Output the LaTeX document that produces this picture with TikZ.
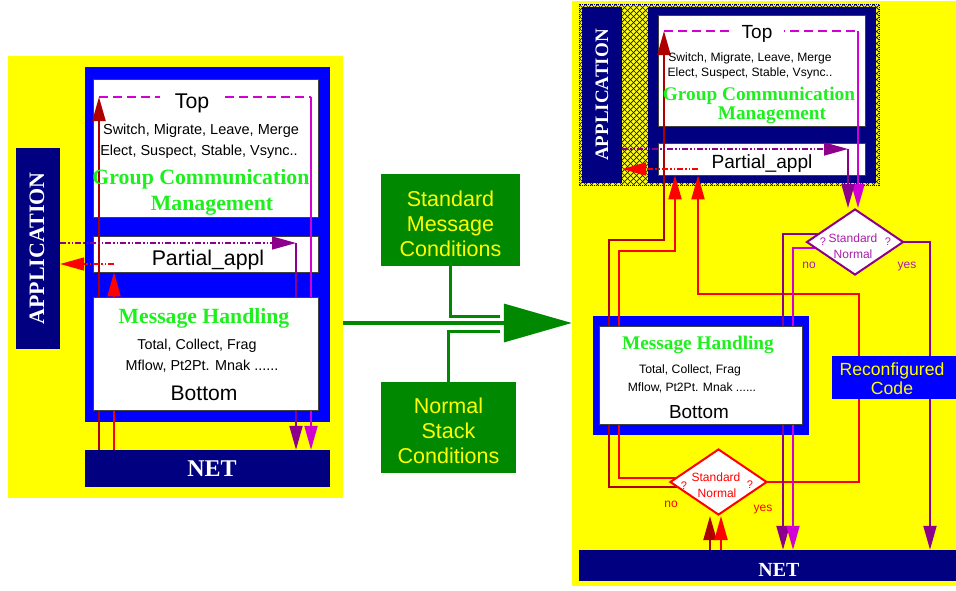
\documentclass[tikz,border=0pt]{standalone}
\usepackage{fontspec}
\setmainfont{Liberation Sans}
\newfontfamily\tmsfont{Liberation Serif}
\usetikzlibrary{arrows.meta,shapes.geometric}
\definecolor{bgyel}{RGB}{255,255,0}
\definecolor{stkblue}{RGB}{0,0,255}
\definecolor{netnavy}{RGB}{0,0,128}
\definecolor{lnmaroon}{RGB}{175,0,0}
\definecolor{lnred}{RGB}{255,0,0}
\definecolor{lnpurple}{RGB}{140,0,140}
\definecolor{lnmagenta}{RGB}{210,0,210}
\definecolor{condgreen}{RGB}{0,136,0}
\definecolor{gcmgreen}{RGB}{30,240,30}
\definecolor{qpurple}{RGB}{170,30,170}
\newcommand\setfs[1]{\fontsize{#1}{#1}\selectfont}
\pgfdeclarelayer{bg}
\pgfdeclarelayer{conn}
\pgfsetlayers{bg,conn,main}
\begin{document}
\begin{tikzpicture}[x=1pt,y=-1pt,
    wbox/.style={draw=black!75,fill=white,line width=0.8pt,inner sep=0pt},
    fillbox/.style={inner sep=0pt},
    navybox/.style={fill=netnavy,inner sep=0pt},
    txt/.style={inner sep=0pt,anchor=base},
    bigtxt/.style={txt,text=white,font=\tmsfont\bfseries\setfs{#1}},
    gcm/.style={txt,text=gcmgreen,font=\tmsfont\bfseries\setfs{#1}},
    condbox/.style={fill=condgreen,text=bgyel,align=center,inner sep=0pt,font=\fontsize{21.5}{25}\selectfont},
    decision/.style={diamond,draw=#1,fill=white,line width=2pt,inner sep=0pt,minimum width=97,minimum height=66},
    ln/.style={line width=2pt},
    arr/.style={-{Triangle[length=24pt,width=13pt]}},
    dashmag/.style={line width=1.6pt,dash pattern=on 9pt off 5pt},
    dashdd/.style={line width=1.6pt,dash pattern=on 6pt off 2pt on 1.5pt off 2pt on 1.5pt off 2pt}]
\useasboundingbox (0,0) rectangle (956,590);

% ---------- left stack
\begin{pgfonlayer}{bg}
  \node[fillbox,fill=bgyel,minimum width=335,minimum height=442] (lbg) at (175.5,277) {};
  \node[fillbox,fill=stkblue,minimum width=245,minimum height=355] (lstack) at (207.5,244.5) {};
  \node[wbox,minimum width=225,minimum height=138] (ltop) at (205.5,148) {};
  \node[wbox,minimum width=225,minimum height=36] (lpart) at (205.5,254) {};
\end{pgfonlayer}
\node[navybox,minimum width=44,minimum height=201] (lapp) at (38,248.5) {};
\node[bigtxt=22,rotate=90,anchor=center] (lapptxt) at (37,248.5) {APPLICATION};
\node[txt,fill=white,inner xsep=15pt,font=\setfs{21.3}] (ltoptxt) at (192,108.3) {Top};
\node[txt,font=\setfs{14.5}] (lsw) at (201,134.3) {Switch, Migrate, Leave, Merge};
\node[txt,font=\setfs{14.5}] (lel) at (199,155) {Elect, Suspect, Stable, Vsync..};
\node[gcm=21.8] (lgc1) at (201,184.5) {Group Communication};
\node[gcm=21.8] (lgc2) at (212,210) {Management};
\node[txt,font=\setfs{21.3}] (lparttxt) at (208,265) {Partial\_appl};
\node[wbox,minimum width=225,minimum height=113] (lmsg) at (205.5,353.5) {};
\node[gcm=21.7] (lmh) at (204,323.3) {Message Handling};
\node[txt,font=\setfs{14.3}] (ltot) at (197,349.3) {Total, Collect, Frag};
\node[txt,font=\setfs{14.4}] (lmfl) at (202,370) {Mflow, Pt2Pt. Mnak ......};
\node[txt,font=\setfs{21.1}] (lbot) at (204,400) {Bottom};
\node[navybox,minimum width=245,minimum height=37] (lnet) at (207.5,468.5) {};
\node[bigtxt=24] (lnettxt) at (212,476) {NET};

% ---------- middle
\node[condbox,minimum width=139,minimum height=92] (stdbox) at (450.5,220) {\rule{0pt}{23pt}Standard\\Message\\Conditions};
\node[condbox,minimum width=135,minimum height=91] (nrmbox) at (448.5,427.5) {\rule{0pt}{23pt}Normal\\Stack\\Conditions};

% ---------- right stack
\begin{pgfonlayer}{bg}
  \node[fillbox,fill=bgyel,minimum width=384,minimum height=585] (rbg) at (764,293.5) {};
  \fill[bgyel] (579,4) rectangle (879,185);
  \begin{scope}
    \clip (579,4) rectangle (879,185);
    \foreach \k in {-186,-180,...,306} {
      \draw[netnavy,line width=0.7pt] (579+\k,4) -- ++(181,181);
      \draw[netnavy,line width=0.7pt] (579+\k,185) -- ++(181,-181);
    }
  \end{scope}
  \draw[netnavy,densely dotted,line width=1pt] (579,4) rectangle (879,185);
  \fill[netnavy] (648,7) rectangle (876,183);
  \node[wbox,minimum width=207,minimum height=111] (rtop) at (761.5,70.5) {};
  \node[wbox,minimum width=207,minimum height=32] (rpart) at (761.5,159) {};
  \node[fillbox,fill=stkblue,minimum width=216,minimum height=119] (rstack) at (701,375.5) {};
\end{pgfonlayer}
\node[navybox,minimum width=40,minimum height=176] (rapp) at (602,95) {};
\node[bigtxt=19,rotate=90,anchor=center] (rapptxt) at (602,95) {APPLICATION};
\node[txt,fill=white,inner xsep=12pt,font=\setfs{19}] (rtoptxt) at (757,38.3) {Top};
\node[txt,font=\setfs{12.1}] (rsw) at (750,61.7) {Switch, Migrate, Leave, Merge};
\node[txt,font=\setfs{12.1}] (rel) at (750,76.7) {Elect, Suspect, Stable, Vsync..};
\node[gcm=19.3] (rgc1) at (759,100) {Group Communication};
\node[gcm=19.3] (rgc2) at (772,119.3) {Management};
\node[txt,font=\setfs{19.1}] (rparttxt) at (762,168.3) {Partial\_appl};

\node[decision=lnpurple] (rdiaA) at (855,242) {};
\node[txt,text=qpurple,font=\setfs{12}] (rdaA1) at (853,242.3) {Standard};
\node[txt,text=qpurple,font=\setfs{12}] (rdaA2) at (853,258.3) {Normal};
\node[txt,text=qpurple,font=\setfs{11}] (rdaAq1) at (823,245) {?};
\node[txt,text=qpurple,font=\setfs{11}] (rdaAq2) at (888,245) {?};
\node[txt,text=qpurple,font=\setfs{12}] (rdaAno) at (809,268.3) {no};
\node[txt,text=qpurple,font=\setfs{12}] (rdaAyes) at (907,268.3) {yes};

\node[wbox,minimum width=203,minimum height=98] (rmsg) at (700.5,375) {};
\node[gcm=19.3] (rmh) at (698,349.3) {Message Handling};
\node[txt,font=\setfs{12.2}] (rtot) at (690,373.3) {Total, Collect, Frag};
\node[txt,font=\setfs{12.1}] (rmfl) at (692,391.7) {Mflow, Pt2Pt. Mnak ......};
\node[txt,font=\setfs{18.9}] (rbot) at (699,418.3) {Bottom};

\node[fillbox,fill=stkblue,minimum width=124,minimum height=43] (rcode) at (894,377.5) {};
\node[txt,text=bgyel,font=\setfs{17.6}] (rcode1) at (892,375) {Reconfigured};
\node[txt,text=bgyel,font=\setfs{17.6}] (rcode2) at (892,394) {Code};

\node[decision=lnred] (rdiaB) at (718.5,482) {};
\node[txt,text=lnred,font=\setfs{12}] (rdaB1) at (716,481.7) {Standard};
\node[txt,text=lnred,font=\setfs{12}] (rdaB2) at (717,497.3) {Normal};
\node[txt,text=lnred,font=\setfs{11}] (rdaBq1) at (684,489) {?};
\node[txt,text=lnred,font=\setfs{11}] (rdaBq2) at (750,488.3) {?};
\node[txt,text=lnred,font=\setfs{12}] (rdaBno) at (671,507.7) {no};
\node[txt,text=lnred,font=\setfs{12}] (rdaByes) at (763,511.7) {yes};

\node[navybox,minimum width=377,minimum height=31] (rnet) at (767.5,565.5) {};
\node[bigtxt=20] (rnettxt) at (779,576) {NET};

% ---------- big transition arrow
\draw[condgreen,line width=3pt] (stdbox.south) |- (500,316);
\draw[condgreen,line width=3pt] (nrmbox.north) |- (500,331);
\draw[condgreen,line width=3.5pt,-{Triangle[length=68pt,width=38pt]}] (lbg.east |- 0,323) -- (rbg.west |- 0,323);

% ---------- connectors
\coordinate (ltopl) at (99,97);
\coordinate (ltopr) at (311,97);
\coordinate (lred) at (114,264);
\coordinate (lpur) at (296,243);
\coordinate (rtopl) at (664,31);
\coordinate (rtopr) at (858,31);
\coordinate (rred1) at (675,169);
\coordinate (rred2) at (698,169);
\coordinate (rpur) at (848,149);
\coordinate (rpd) at (783,300);
\coordinate (rmd) at (793,300);
\coordinate (rcd) at (930,300);
\coordinate (rup1) at (710,530);
\coordinate (rup2) at (721,530);
\begin{pgfonlayer}{conn}
  % left
  \draw[ln,lnmaroon,arr] (lnet.north -| ltopl) -- (ltopl);
  \draw[dashmag,lnmagenta] (ltopl) -- (ltopr);
  \draw[ln,lnmagenta,arr] (ltopr) -- (lnet.north -| ltopr);
  \draw[ln,lnred,arr] (lnet.north -| lred) -- (lpart.south -| lred);
  \draw[dashdd,lnred,arr] (lred) -- (lapp.east |- lred);
  \draw[dashdd,lnpurple,arr] (lapp.east |- lpur) -- (lpur);
  \draw[ln,lnpurple,arr] (lpur) -- (lnet.north -| lpur);
  % right
  \draw[ln,lnmaroon,arr] ([yshift=-5pt]rdiaB.center) -| (609,240) -| (rtopl);
  \draw[dashmag,lnmagenta] (rtopl) -- (rtopr);
  \draw[ln,lnmagenta,arr] (rtopr) -- (rdiaA.north -| rtopr);
  \draw[ln,lnred,arr] ([yshift=4pt]rdiaB.center) -| (619,251) -| (rpart.south -| rred1);
  \draw[ln,lnred,arr] (rdiaB.center) -| (859,294) -| (rpart.south -| rred2);
  \draw[dashdd,lnred,arr] (rred2) -- (rapp.east |- rred2);
  \draw[dashdd,lnpurple,arr] (rapp.east |- rpur) -- (rpur);
  \draw[ln,lnpurple,arr] (rpur) -- (rdiaA.north -| rpur);
  \draw[ln,lnpurple,arr] ([yshift=8pt]rdiaA.center) -| (rnet.north -| rpd);
  \draw[ln,lnmagenta,arr] ([yshift=-6pt]rdiaA.center) -| (rnet.north -| rmd);
  \draw[ln,lnpurple,arr] (rdiaA.center) -| (rnet.north -| rcd);
  \draw[ln,lnmaroon,arr] (rnet.north -| rup1) -- (rdiaB.south -| rup1);
  \draw[ln,lnred,arr] (rnet.north -| rup2) -- (rdiaB.south -| rup2);
\end{pgfonlayer}
\end{tikzpicture}
\end{document}
